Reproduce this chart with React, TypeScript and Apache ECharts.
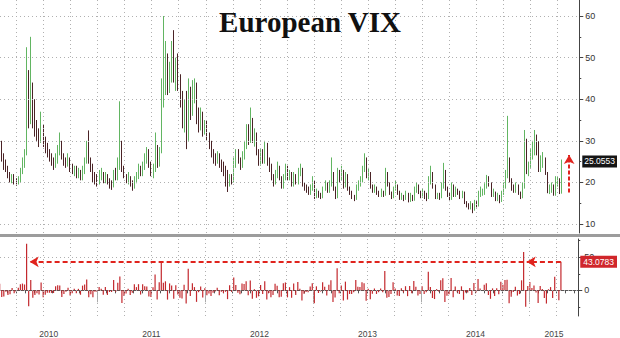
import React, { useEffect, useRef } from "react";
import * as echarts from "echarts";

// ---------------- data (weekly V2X bars) ----------------
const START_UTC = Date.UTC(2010, 1, 5); // first weekly bar
const FIRST_OPEN = 31.0;
const PREV_WEEK_CLOSE = 26.8;

const close2010 = [29.5, 26.5, 24.0, 23.5, 21.8, 20.5, 21.2, 20.3, 19.8, 20.6,
  22.5, 24.8, 27.0, 46.0, 35.0, 40.5, 36.0, 33.5, 32.0, 30.0,
  33.5, 30.0, 28.0, 27.0, 26.0, 25.0, 24.0, 25.5, 27.5, 29.5,
  26.5, 25.0, 24.5, 25.5, 23.5, 22.5, 23.0, 22.0, 22.5, 21.0,
  22.5, 24.5, 28.5, 25.5, 24.0, 21.5, 21.0, 20.5];
const high2010 = [33, 30, 27, 25.5, 24, 22.5, 22, 22, 21, 21.5,
  23.5, 26, 28, 52.5, 47, 55, 44, 40, 35, 33,
  37, 34, 31, 29.5, 28, 27, 26, 27, 29, 32,
  30, 27, 26, 27, 26, 24.5, 24, 24, 23.5, 23,
  24, 26, 30, 32.5, 26, 24.5, 22.5, 22];
const low2010 = [26, 25, 23, 22.5, 21, 20, 19.8, 19.5, 19.2, 19.5,
  20, 22, 23.5, 26.5, 33, 34, 33, 31, 30, 28.5,
  29.5, 28.5, 27, 26, 25, 24, 23, 23.5, 24.5, 26.5,
  25.5, 24, 23.5, 23.8, 22.5, 22, 21.5, 21, 21, 20.5,
  20.5, 22, 24.5, 24.5, 22.5, 20, 19.5, 19];

const close2011 = [21.5, 22.0, 20.5, 21.5, 20.0, 19.5, 19.0, 22.0, 21.5, 24.0,
  29.0, 23.5, 21.5, 20.5, 21.0, 19.5, 18.8, 20.5, 21.5, 23.5,
  22.0, 24.0, 25.5, 27.0, 24.5, 22.0, 23.0, 28.5, 24.5, 27.5,
  39.5, 44.0, 50.0, 43.0, 47.5, 51.0, 44.5, 48.0, 45.0, 40.0,
  35.0, 38.0, 30.5, 40.5, 37.0, 41.0, 43.0, 35.5, 34.5, 36.5,
  32.5, 33.5];
const high2011 = [23, 23.5, 22.5, 22.5, 22, 21, 20.5, 23, 23.5, 26,
  39.5, 30, 24, 22, 22.5, 21.5, 20.5, 21.5, 22.5, 24.5,
  24, 25, 27, 28.5, 28, 25, 24.5, 32, 29, 28.5,
  45, 60, 54, 51, 49, 54, 56.6, 50, 51, 46,
  42, 40, 42, 45, 43, 44.6, 45, 44, 38, 38,
  37, 35];
const low2011 = [19.5, 20.5, 19.8, 19.8, 19.5, 18.5, 18.2, 18.8, 20.5, 20.5,
  23, 22.5, 21, 19.8, 19.5, 19, 18, 18.5, 19.8, 20.8,
  21.5, 21.5, 23, 24.5, 23.5, 21.5, 21, 22.5, 23.5, 23.8,
  27, 38, 41, 41, 41.5, 44, 44, 42, 42, 38,
  33, 32, 28, 30, 35, 36, 39, 34, 32, 32.5,
  31, 31.5];

const close2012 = [31.0, 29.5, 27.0, 26.0, 25.5, 26.5, 24.5, 24.0, 23.0, 22.5,
  19.5, 21.0, 20.5, 24.5, 26.5, 25.5, 24.0, 26.5, 29.0, 33.0,
  30.5, 35.0, 30.5, 31.0, 27.5, 25.0, 27.0, 25.5, 29.0, 25.0,
  24.0, 21.5, 20.0, 22.0, 23.5, 21.0, 19.0, 21.0, 23.5, 21.0,
  22.0, 19.5, 21.5, 20.0, 22.5, 23.0, 19.5, 18.5, 18.0, 17.5,
  18.5, 20.5];
const high2012 = [35, 32, 30, 28, 27, 27.5, 27, 25.5, 25, 24,
  23, 22, 22, 26, 28, 28, 26, 27.5, 30, 34,
  34, 38, 35.5, 33, 32, 28, 28, 28, 30, 29.5,
  26, 24.5, 22, 23, 25, 24, 21.5, 22, 24.5, 24,
  23, 22.5, 22.5, 22, 23.5, 24.5, 23.5, 20, 19.5, 19,
  19.5, 21.5];
const low2012 = [30, 28, 26, 24.5, 24, 24.5, 23.5, 22.5, 21.5, 19,
  17.7, 19, 19.5, 20, 23.5, 24.5, 23, 23.5, 25.5, 28,
  29, 29.5, 29.5, 28.6, 26.5, 24, 24, 24.5, 24.5, 24,
  22.5, 20.5, 19, 19.5, 21, 20.5, 18.5, 18.5, 20.5, 20.5,
  20.5, 19, 19, 19.5, 19.5, 21.5, 19, 18, 17.5, 17,
  17, 18];

const close2013 = [16.5, 17.5, 16.8, 16.5, 18.5, 19.5, 18.0, 19.5, 22.5, 18.5,
  16.5, 22.0, 21.0, 22.5, 19.0, 21.5, 18.5, 17.5, 16.5, 16.0,
  18.5, 19.5, 20.5, 23.0, 25.5, 21.5, 22.0, 19.0, 18.0, 18.5,
  17.5, 17.0, 17.5, 17.0, 22.0, 19.5, 17.5, 16.5, 18.5, 19.0,
  17.5, 16.0, 16.5, 16.0, 17.0, 15.5, 16.5, 15.8, 18.0, 19.0,
  17.5, 16.5];
const high2013 = [20.5, 18.5, 18, 17.5, 19, 20.5, 20, 20.5, 26, 22.5,
  19, 23.5, 23, 24, 23, 22.5, 22, 19, 18, 17,
  19.5, 20.5, 21.5, 24, 27, 26, 23.5, 22.5, 19.5, 19.5,
  19, 18, 18.5, 18, 23.5, 22.5, 20, 17.8, 19, 20.5,
  19.5, 18, 17.5, 17, 18, 17.5, 17.5, 17, 19, 20,
  19.5, 18];
const low2013 = [16, 16.2, 16.3, 16, 16.2, 18, 17.5, 17.5, 19, 18,
  16, 16.2, 20, 20.5, 18.5, 18.8, 18, 17, 16, 15.5,
  15.8, 18, 19, 20, 22.5, 21, 20.5, 18.5, 17.5, 17.5,
  17, 16.5, 16.5, 16.5, 16.8, 19, 17, 16, 16.2, 18,
  17, 15.8, 15.8, 15.5, 15.8, 15.2, 15.3, 15.5, 15.6, 17.5,
  17.2, 16.2];

const close2014 = [17.5, 16.5, 16.0, 20.5, 21.5, 19.0, 16.5, 16.8, 16.5, 19.0,
  22.5, 18.5, 17.0, 16.0, 19.0, 17.0, 18.0, 17.5, 16.5, 17.5,
  15.0, 14.5, 14.0, 14.5, 13.5, 15.0, 14.5, 17.0, 17.5, 17.5,
  19.0, 21.0, 19.5, 17.0, 17.5, 16.0, 16.5, 15.5, 17.5, 19.0,
  22.0, 25.5, 20.5, 18.5, 18.0, 19.0, 17.5, 16.5, 19.0, 30.0,
  22.5, 24.0];
const high2014 = [18.5, 18, 17.5, 21.5, 24, 22.5, 19.5, 17.5, 17.5, 20,
  24.7, 23, 19, 17.5, 20, 19.5, 19, 18.5, 18, 18,
  17.8, 15.5, 15, 15.5, 15, 15.8, 15.5, 18, 19, 18.5,
  19.8, 21.8, 21.5, 20, 18.5, 17.8, 17.5, 17, 18, 20,
  23, 36, 26, 21, 19.5, 20, 19.5, 17.8, 20, 32.6,
  30.5, 25];
const low2014 = [16.3, 16, 15.5, 16, 19.5, 18.5, 16, 16, 15.8, 16.2,
  18.5, 18, 16.5, 15.5, 15.8, 16.5, 16.5, 17, 16, 16.2,
  14.8, 14, 13.5, 13.5, 12.6, 13.2, 14, 14.2, 16.5, 16.8,
  17, 18.5, 19, 16.5, 16.5, 15.5, 15.5, 15, 15.3, 17,
  18.5, 21, 20, 18, 17.5, 17.5, 17, 16, 16.2, 18.5,
  22, 21.5];

const close2015 = [27.0, 28.0, 30.0, 29.0, 23.5, 25.0, 25.5, 22.5, 18.0, 18.3,
  19.2, 17.0, 20.5, 20.6, 17.5116, 25.0553];
const high2015 = [28, 30, 32.6, 31.5, 29.9, 26.5, 27.3, 26, 22.5, 19.5,
  20, 19.5, 21.5, 21.5, 21, 25.5];
const low2015 = [23.5, 25.5, 26.5, 26.5, 22.5, 22.5, 23.5, 21.8, 17.4, 17.2,
  17.5, 16.8, 16.8, 19, 17.2, 17.3];

const yearLabels = ["2010", "2011", "2012", "2013", "2014", "2015"];
const priceTicks = [10, 20, 30, 40, 50, 60];
const priceMinorTicks = [15, 25, 35, 45, 55];
const changeTicks = [0, 50];
const changeMinorTicks = [-25, 25, 75];

// annotation anchors (bar indices of the earlier spikes)
const SPIKE_2010 = 13;
const SPIKE_2014 = 253;
const UP_ARROW = [17.6, 26.6];

// ---------------- view constants ----------------
const X_MIN = 2010.099;
const X_MAX = 2015.451;
const FONT = "'Liberation Sans', Arial, sans-serif";

function decimalYear(ms: number) {
  const d = new Date(ms);
  const y = d.getUTCFullYear();
  const s = Date.UTC(y, 0, 1);
  const e = Date.UTC(y + 1, 0, 1);
  return y + (ms - s) / (e - s);
}

export default function App() {
  const ref = useRef<HTMLDivElement>(null);

  useEffect(() => {
    if (!ref.current) return;
    const chart = echarts.init(ref.current, undefined, { renderer: "svg" });

    const closes = [...close2010, ...close2011, ...close2012, ...close2013, ...close2014, ...close2015];
    const highs = [...high2010, ...high2011, ...high2012, ...high2013, ...high2014, ...high2015];
    const lows = [...low2010, ...low2011, ...low2012, ...low2013, ...low2014, ...low2015];
    const xs = closes.map((_, i) => decimalYear(START_UTC + i * 7 * 86400000));

    const candles = closes.map((c, i) => {
      const o = i === 0 ? FIRST_OPEN : closes[i - 1];
      const h = Math.max(highs[i] ?? c, o, c);
      const l = Math.min(lows[i] ?? c, o, c);
      return [xs[i], o, c, l, h];
    });
    const changes = closes.map((c, i) => {
      const p = i === 0 ? PREV_WEEK_CLOSE : closes[i - 1];
      return [xs[i], (c / p - 1) * 100];
    });

    const last = closes.length - 1;
    const lastClose = closes[last];
    const lastChange = changes[last][1];

    const firstYear = parseInt(yearLabels[0], 10);
    const lastYear = parseInt(yearLabels[yearLabels.length - 1], 10);
    const quarterValues: number[] = [];
    const monthValues: number[] = [];
    const yearBounds: number[] = [];
    for (let y = firstYear; y <= lastYear; y++) {
      for (let q = 0; q < 4; q++) {
        const v = y + q / 4;
        if (v > X_MIN && v < X_MAX) quarterValues.push(v);
      }
      for (let m = 0; m < 12; m++) {
        const v = y + m / 12;
        if (v > X_MIN && v < X_MAX) monthValues.push(v);
      }
      if (y > X_MIN && y < X_MAX) yearBounds.push(y);
    }
    const yearLabelPos = yearLabels.map((s) => {
      const y = parseInt(s, 10);
      const a = Math.max(y, X_MIN);
      const b = Math.min(y + 1, X_MAX);
      return (a + b) / 2;
    });

    const dotted = { color: "#b0b0b0", type: [1, 3] as number[], width: 1 };
    const weekYr = 7 / 365.25;

    const baseX = {
      type: "value" as const,
      min: X_MIN,
      max: X_MAX,
      position: "bottom" as const,
      axisLine: { show: false },
      axisLabel: { show: false },
      axisTick: { show: false },
      splitLine: { show: false },
    };

    const gridLines = (vals: number[], key: "xAxis" | "yAxis") => vals.map((v) => ({ [key]: v }));

    chart.setOption({
      animation: false,
      backgroundColor: "#ffffff",
      title: {
        text: "European VIX",
        left: "center",
        top: 7,
        padding: 0,
        textStyle: {
          fontFamily: "'Liberation Serif', 'Times New Roman', serif",
          fontWeight: "bold",
          fontSize: 29,
          color: "#111",
        },
      },
      grid: [
        { left: 0, right: 38, top: 0, height: 233 },
        { left: 0, right: 38, top: 239, height: 78 },
      ],
      xAxis: [
        { ...baseX, gridIndex: 0 },
        {
          ...baseX,
          gridIndex: 1,
          axisLine: { show: true, lineStyle: { color: "#555", width: 1 } },
          axisTick: { show: true, customValues: monthValues, length: 3, lineStyle: { color: "#555" } },
        },
        {
          ...baseX,
          gridIndex: 1,
          offset: 10,
          axisTick: { show: true, customValues: yearBounds, length: 12, lineStyle: { color: "#aaa" } },
          axisLabel: {
            show: true,
            customValues: yearLabelPos,
            formatter: (v: number) => String(Math.floor(v)),
            margin: 3,
            fontSize: 8.5,
            color: "#444",
            fontFamily: FONT,
          },
        },
      ],
      yAxis: [
        {
          type: "value",
          gridIndex: 0,
          position: "right",
          min: 7.84,
          max: 63.85,
          axisLine: { show: true, lineStyle: { color: "#444" } },
          axisTick: { show: true, customValues: priceTicks, length: 4, lineStyle: { color: "#444" } },
          axisLabel: { show: true, customValues: priceTicks, margin: 6, fontSize: 9, color: "#333", fontFamily: FONT },
          splitLine: { show: false },
        },
        {
          type: "value",
          gridIndex: 0,
          position: "right",
          min: 7.84,
          max: 63.85,
          axisLine: { show: false },
          axisTick: { show: true, customValues: priceMinorTicks, length: 2, lineStyle: { color: "#444" } },
          axisLabel: { show: false },
          splitLine: { show: false },
        },
        {
          type: "value",
          gridIndex: 1,
          position: "right",
          min: -38.8,
          max: 77.6,
          axisLine: { show: true, lineStyle: { color: "#444" } },
          axisTick: { show: true, customValues: changeTicks, length: 4, lineStyle: { color: "#444" } },
          axisLabel: { show: true, customValues: changeTicks, margin: 6, fontSize: 9, color: "#333", fontFamily: FONT },
          splitLine: { show: false },
        },
        {
          type: "value",
          gridIndex: 1,
          position: "right",
          min: -38.8,
          max: 77.6,
          axisLine: { show: false },
          axisTick: { show: true, customValues: changeMinorTicks, length: 2, lineStyle: { color: "#444" } },
          axisLabel: { show: false },
          splitLine: { show: false },
        },
        {
          type: "value",
          gridIndex: 0,
          position: "right",
          min: 7.84,
          max: 63.85,
          axisLine: { show: false },
          axisTick: { show: false },
          axisLabel: {
            show: true,
            customValues: [lastClose],
            formatter: (v: number) => v.toFixed(4),
            margin: 3,
            fontSize: 8.5,
            color: "#fff",
            backgroundColor: "#151515",
            padding: [2, 2, 1, 2],
            fontFamily: FONT,
          },
          splitLine: { show: false },
        },
        {
          type: "value",
          gridIndex: 1,
          position: "right",
          min: -38.8,
          max: 77.6,
          axisLine: { show: false },
          axisTick: { show: false },
          axisLabel: {
            show: true,
            customValues: [lastChange],
            formatter: (v: number) => v.toFixed(4),
            margin: 2,
            fontSize: 8.5,
            color: "#fff",
            backgroundColor: "#d0262b",
            padding: [2, 3, 1, 3],
            fontFamily: FONT,
          },
          splitLine: { show: false },
        },
      ],
      graphic: [
        { type: "rect", left: 0, top: 234, shape: { width: 620, height: 3 }, style: { fill: "#9c9c9c" }, z: 10 },
      ],
      series: [
        // dotted grid of the price panel
        {
          type: "line",
          xAxisIndex: 0,
          yAxisIndex: 0,
          data: [],
          showSymbol: false,
          silent: true,
          markLine: {
            silent: true,
            animation: false,
            symbol: ["none", "none"],
            label: { show: false },
            lineStyle: dotted,
            data: [...gridLines(quarterValues, "xAxis"), ...gridLines(priceTicks, "yAxis")],
          },
        },
        // dotted grid of the change panel
        {
          type: "line",
          xAxisIndex: 1,
          yAxisIndex: 2,
          data: [],
          showSymbol: false,
          silent: true,
          markLine: {
            silent: true,
            animation: false,
            symbol: ["none", "none"],
            label: { show: false },
            lineStyle: dotted,
            data: [...gridLines(quarterValues, "xAxis"), ...gridLines(changeTicks, "yAxis")],
          },
        },
        {
          type: "candlestick",
          xAxisIndex: 0,
          yAxisIndex: 0,
          data: candles,
          barWidth: 1.2,
          itemStyle: {
            color: "#8fd08f",
            color0: "#5a2b2d",
            borderColor: "#62b562",
            borderColor0: "#4a2326",
            borderWidth: 1,
          },
          markLine: {
            silent: true,
            animation: false,
            symbol: ["none", "arrow"],
            symbolSize: [8, 9],
            label: { show: false },
            lineStyle: { color: "#e0231d", type: [4, 2], width: 2 },
            data: [
              [
                { coord: [xs[last] + 3.5 * weekYr, UP_ARROW[0]] },
                { coord: [xs[last] + 3.5 * weekYr, UP_ARROW[1]] },
              ],
            ],
          },
        },
        {
          type: "bar",
          xAxisIndex: 1,
          yAxisIndex: 2,
          data: changes,
          barWidth: 1.2,
          itemStyle: { color: "#c3292e" },
          markLine: {
            silent: true,
            animation: false,
            symbol: ["none", "arrow"],
            symbolSize: [8, 9],
            label: { show: false },
            lineStyle: { color: "#e0231d", type: [5, 3], width: 2 },
            data: [
              [
                { coord: [xs[last], lastChange] },
                { coord: [xs[SPIKE_2014] + 1.5 * weekYr, lastChange] },
              ],
              [
                { coord: [xs[SPIKE_2014], lastChange] },
                { coord: [xs[SPIKE_2010] + 1.5 * weekYr, lastChange] },
              ],
            ],
          },
        },
      ],
    });

    return () => chart.dispose();
  }, []);

  return (
    <div
      ref={ref}
      style={{ position: "fixed", left: 0, top: 0, width: 620, height: 338, background: "#fff" }}
    />
  );
}
